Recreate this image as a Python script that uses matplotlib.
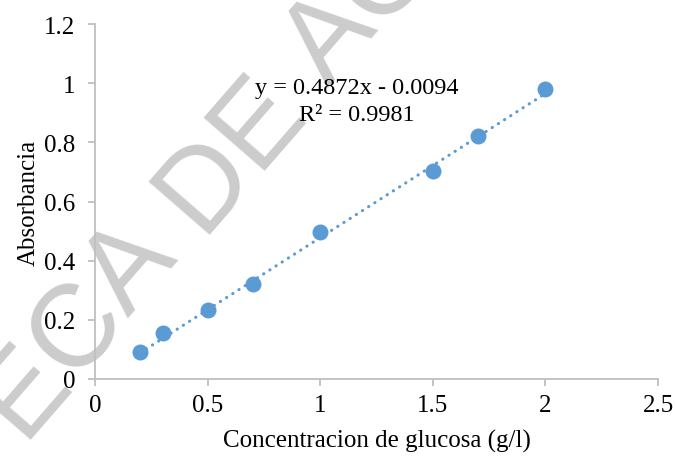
import matplotlib
matplotlib.use("Agg")
import matplotlib.pyplot as plt
import numpy as np
from matplotlib import font_manager
from matplotlib.ft2font import FT2Font

concentracion = [0.2, 0.3, 0.5, 0.7, 1.0, 1.5, 1.7, 2.0]
absorbancia = [0.09, 0.155, 0.233, 0.321, 0.497, 0.703, 0.821, 0.980]
pendiente = 0.4872
intercepto = -0.0094
r2 = 0.9981

x_ticks = [0, 0.5, 1, 1.5, 2, 2.5]
x_tick_labels = ["0", "0.5", "1", "1.5", "2", "2.5"]
y_ticks = [0, 0.2, 0.4, 0.6, 0.8, 1.0, 1.2]
y_tick_labels = ["0", "0.2", "0.4", "0.6", "0.8", "1", "1.2"]

marca_agua = "TECA DE AG"

azul = "#5b9bd5"
gris = "#bfbfbf"
DPI = 100

plt.rcParams["font.family"] = ["Liberation Serif", "DejaVu Serif"]

fig = plt.figure(figsize=(6.75, 4.6), dpi=DPI)
ax = fig.add_axes([95 / 675, 1 - 380 / 460, 563 / 675, 355 / 460])
ax.set_facecolor("none")

# linea de tendencia
xs = np.array([min(concentracion), max(concentracion)])
ax.plot(xs, pendiente * xs + intercepto, color=azul, lw=2.2,
        linestyle=(0, (0.1, 2.3)), dash_capstyle="round", zorder=3)
ax.plot(concentracion, absorbancia, "o", color=azul, ms=11.5,
        markeredgewidth=0, zorder=4)

ax.text(1.163, 0.985, f"y = {pendiente}x - {abs(intercepto)}",
        ha="center", va="center", fontsize=17.5, zorder=5)
ax.text(1.163, 0.893, f"R² = {r2}", ha="center", va="center",
        fontsize=17.5, zorder=5)

ax.set_xlim(0, 2.5)
ax.set_ylim(0, 1.2)
ax.set_xticks(x_ticks, x_tick_labels)
ax.set_yticks(y_ticks, y_tick_labels)
ax.tick_params(axis="both", colors=gris, labelcolor="black", labelsize=18,
               length=5, width=1.3, direction="out")
ax.tick_params(axis="x", pad=6)
ax.tick_params(axis="y", pad=9)
for lado in ["top", "right"]:
    ax.spines[lado].set_visible(False)
for lado in ["left", "bottom"]:
    ax.spines[lado].set_color(gris)
    ax.spines[lado].set_linewidth(1.3)

ax.set_xlabel("Concentracion de glucosa (g/l)", fontsize=18, labelpad=9)
ax.set_ylabel("Absorbancia", fontsize=18, labelpad=3)

# marca de agua: letras sueltas en diagonal
tam = 84
angulo = np.deg2rad(49)
prop = font_manager.FontProperties(family="Liberation Sans", size=tam)
fuente = FT2Font(font_manager.findfont(prop))
fuente.set_size(tam, 72)
direccion = np.array([np.cos(angulo), np.sin(angulo)])
pos = np.array([-25.0, 460 - 494.0])  # inicio de la linea base, en pixeles
for letra in marca_agua:
    avance = fuente.load_char(ord(letra)).linearHoriAdvance / 65536 * DPI / 72
    if letra != " ":
        ax.text(pos[0] / 675, pos[1] / 460, letra, transform=fig.transFigure,
                fontproperties=prop, color="#999999", alpha=0.5,
                rotation=49, rotation_mode="anchor", ha="left",
                va="baseline", zorder=2, clip_on=False)
    pos = pos + direccion * avance

fig.savefig("out.png", dpi=DPI)
